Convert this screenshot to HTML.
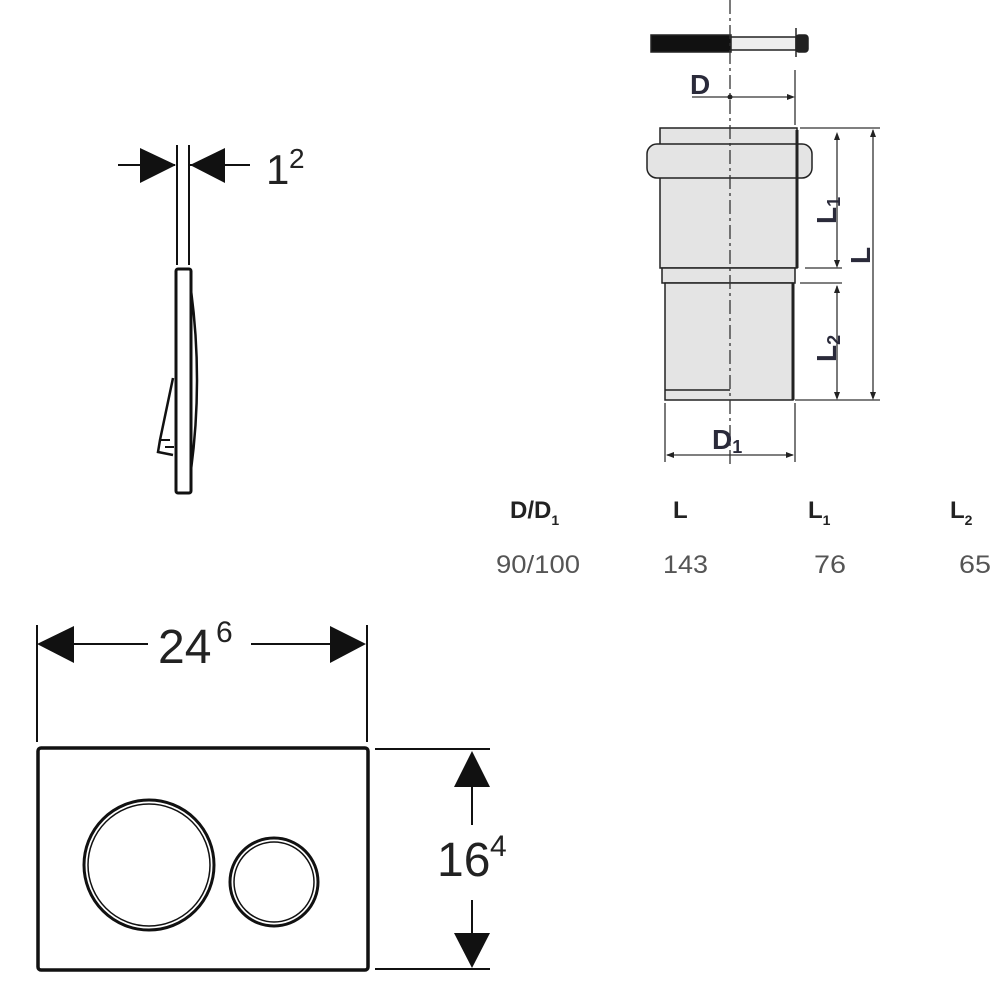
<!DOCTYPE html>
<html><head><meta charset="utf-8"><style>
html,body{margin:0;padding:0;background:#fff}
svg{display:block}
text{font-family:"Liberation Sans",sans-serif}
</style></head><body>
<svg width="1000" height="1000" viewBox="0 0 1000 1000" xmlns="http://www.w3.org/2000/svg">
<!-- side profile -->
<g stroke="#111" fill="none" stroke-width="2">
<line x1="118" y1="165" x2="175" y2="165"/>
<line x1="190" y1="165" x2="250" y2="165"/>
<line x1="177" y1="145" x2="177" y2="265"/>
<line x1="189" y1="145" x2="189" y2="265"/>
<rect x="176" y="269" width="15" height="224" rx="2" stroke-width="3"/>
<path d="M191 290 Q203 380 191 470" stroke-width="2.5"/>
<path d="M173 378 L160 440 L158 452 L173 455" stroke-width="2.5"/>
<path d="M160 440 L170 440 M165 447 L174 447"/>
</g>
<polygon points="176,165 140,148 140,183" fill="#111"/>
<polygon points="190,165 225,148 225,183" fill="#111"/>
<text x="266" y="184" font-size="42" fill="#222">1</text>
<text x="289" y="168" font-size="28" fill="#222">2</text>

<!-- pipe -->
<g stroke="#222" stroke-width="1.5">
<rect x="651" y="35" width="80" height="17" fill="#111"/>
<rect x="731" y="37" width="66" height="13" fill="#eee"/>
<rect x="796" y="35" width="12" height="17" rx="3" fill="#222"/>
<line x1="796" y1="28" x2="796" y2="57"/>
<rect x="660" y="128" width="137" height="140" fill="#e4e4e4"/>
<rect x="647" y="144" width="165" height="34" rx="10" fill="#e4e4e4"/>
<rect x="662" y="268" width="133" height="15" fill="#e4e4e4"/>
<rect x="665" y="283" width="128" height="117" fill="#e4e4e4"/>
<line x1="665" y1="390" x2="730" y2="390"/>
<line x1="797" y1="130" x2="797" y2="268" stroke-width="3"/>
<line x1="793" y1="283" x2="793" y2="400" stroke-width="3"/>
</g>
<g stroke="#333" stroke-width="1.3" fill="none">
<line x1="730" y1="0" x2="730" y2="465" stroke-dasharray="14,4,3,4"/>
<line x1="692" y1="97" x2="792" y2="97"/>
<line x1="795" y1="70" x2="795" y2="125"/>
<line x1="800" y1="128" x2="880" y2="128"/>
<line x1="805" y1="268" x2="842" y2="268"/>
<line x1="800" y1="283" x2="842" y2="283"/>
<line x1="795" y1="400" x2="880" y2="400"/>
<line x1="837" y1="135" x2="837" y2="266"/>
<line x1="837" y1="286" x2="837" y2="398"/>
<line x1="873" y1="130" x2="873" y2="398"/>
<line x1="665" y1="403" x2="665" y2="462"/>
<line x1="795" y1="403" x2="795" y2="462"/>
<line x1="667" y1="455" x2="793" y2="455"/>
</g>
<circle cx="730" cy="97" r="2.5" fill="#222"/>
<g fill="#222">
<polygon points="795,97 787,94 787,100"/>
<polygon points="837,132 834,140 840,140"/><polygon points="837,268 834,260 840,260"/>
<polygon points="837,285 834,293 840,293"/><polygon points="837,400 834,392 840,392"/>
<polygon points="873,129 870,137 876,137"/><polygon points="873,400 870,392 876,392"/>
<polygon points="666,455 674,452 674,458"/><polygon points="794,455 786,452 786,458"/>
</g>
<g fill="#2a2a3a" font-size="28" font-weight="bold">
<text x="690" y="94">D</text>
<text x="712" y="449">D<tspan font-size="18" dy="4">1</tspan></text>
<text transform="translate(836,224) rotate(-90)">L<tspan font-size="18" dy="4">1</tspan></text>
<text transform="translate(870,264) rotate(-90)">L</text>
<text transform="translate(836,362) rotate(-90)">L<tspan font-size="18" dy="4">2</tspan></text>
</g>

<!-- table -->
<g font-size="24" font-weight="bold" fill="#222">
<text x="510" y="518">D/D<tspan font-size="14" dy="7">1</tspan></text>
<text x="673" y="518">L</text>
<text x="808" y="518">L<tspan font-size="14" dy="7">1</tspan></text>
<text x="950" y="518">L<tspan font-size="14" dy="7">2</tspan></text>
</g>
<g font-size="25" fill="#555">
<text x="496" y="573" textLength="84" lengthAdjust="spacingAndGlyphs">90/100</text>
<text x="663" y="573" textLength="45" lengthAdjust="spacingAndGlyphs">143</text>
<text x="814" y="573" textLength="32" lengthAdjust="spacingAndGlyphs">76</text>
<text x="959" y="573" textLength="32" lengthAdjust="spacingAndGlyphs">65</text>
</g>

<!-- front view -->
<g stroke="#111" stroke-width="2" fill="none">
<line x1="37" y1="625" x2="37" y2="742"/>
<line x1="367" y1="625" x2="367" y2="742"/>
<line x1="73" y1="644" x2="148" y2="644"/>
<line x1="251" y1="644" x2="330" y2="644"/>
<rect x="38" y="748" width="330" height="222" rx="3" stroke-width="3.5"/>
<circle cx="149" cy="865" r="65" stroke-width="3"/>
<circle cx="149" cy="865" r="61" stroke-width="1.5"/>
<circle cx="274" cy="882" r="44" stroke-width="3"/>
<circle cx="274" cy="882" r="40" stroke-width="1.5"/>
<line x1="375" y1="749" x2="490" y2="749"/>
<line x1="375" y1="969" x2="490" y2="969"/>
<line x1="472" y1="785" x2="472" y2="825"/>
<line x1="472" y1="900" x2="472" y2="935"/>
</g>
<polygon points="37,644 74,626 74,663" fill="#111"/>
<polygon points="366,644 330,626 330,663" fill="#111"/>
<polygon points="472,751 454,787 490,787" fill="#111"/>
<polygon points="472,968 454,933 490,933" fill="#111"/>
<text x="158" y="663" font-size="48" fill="#222">24</text>
<text x="216" y="642" font-size="30" fill="#222">6</text>
<text x="437" y="876" font-size="48" fill="#222">16</text>
<text x="490" y="856" font-size="30" fill="#222">4</text>
</svg>
</body></html>
